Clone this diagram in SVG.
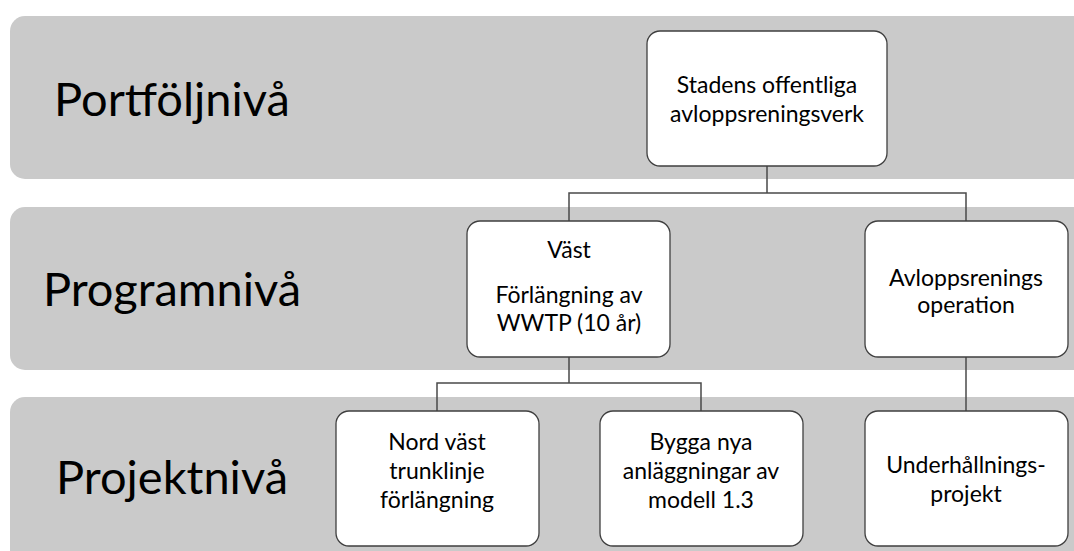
<svg xmlns="http://www.w3.org/2000/svg" width="1074" height="551" viewBox="0 0 1074 551">
<style>
.band{fill:#cacaca}
.lvl{font-family:Lato,"Open Sans","Liberation Sans",sans-serif;font-size:47px;fill:#000;text-anchor:middle}
.node rect{fill:#fff;stroke:#3f3f3f;stroke-width:1.3}
.node text{font-family:Lato,"Open Sans","Liberation Sans",sans-serif;font-size:23px;fill:#000;text-anchor:middle}
.conn path{fill:none;stroke:#4a4a4a;stroke-width:1.5}
</style>
<rect width="1074" height="551" fill="#fff"/>
<g id="bands">
<rect class="band" x="10" y="16" width="1090" height="163" rx="15"/>
<rect class="band" x="10" y="207" width="1090" height="163" rx="15"/>
<rect class="band" x="10" y="397" width="1090" height="170" rx="15"/>
<text class="lvl" x="172" y="116">Portföljnivå</text>
<text class="lvl" x="172" y="306">Programnivå</text>
<text class="lvl" x="172" y="494">Projektnivå</text>
</g>
<g class="conn" id="connectors">
<path d="M767 166V193M569 221V193H966V221"/>
<path d="M569 357V383M437 411V383H701V411"/>
<path d="M966 357V411"/>
</g>
<g class="node" id="n-top">
<rect x="647" y="31" width="240" height="135" rx="13"/>
<text x="767" y="93">Stadens offentliga</text>
<text x="767" y="122">avloppsreningsverk</text>
</g>
<g class="node" id="n-vast">
<rect x="467" y="221" width="203" height="136" rx="13"/>
<text x="569" y="258">Väst</text>
<text x="569" y="303">Förlängning av</text>
<text x="569" y="331">WWTP (10 år)</text>
</g>
<g class="node" id="n-op">
<rect x="865" y="221" width="203" height="136" rx="13"/>
<text x="966" y="286">Avloppsrenings</text>
<text x="966" y="313">operation</text>
</g>
<g class="node" id="n-nord">
<rect x="336" y="411" width="203" height="135" rx="13"/>
<text x="437" y="450">Nord väst</text>
<text x="437" y="479">trunklinje</text>
<text x="437" y="508">förlängning</text>
</g>
<g class="node" id="n-bygga">
<rect x="600" y="411" width="203" height="135" rx="13"/>
<text x="701" y="450">Bygga nya</text>
<text x="701" y="479">anläggningar av</text>
<text x="701" y="508">modell 1.3</text>
</g>
<g class="node" id="n-underh">
<rect x="865" y="411" width="203" height="135" rx="13"/>
<text x="966" y="473">Underhållnings-</text>
<text x="966" y="502">projekt</text>
</g>
</svg>
